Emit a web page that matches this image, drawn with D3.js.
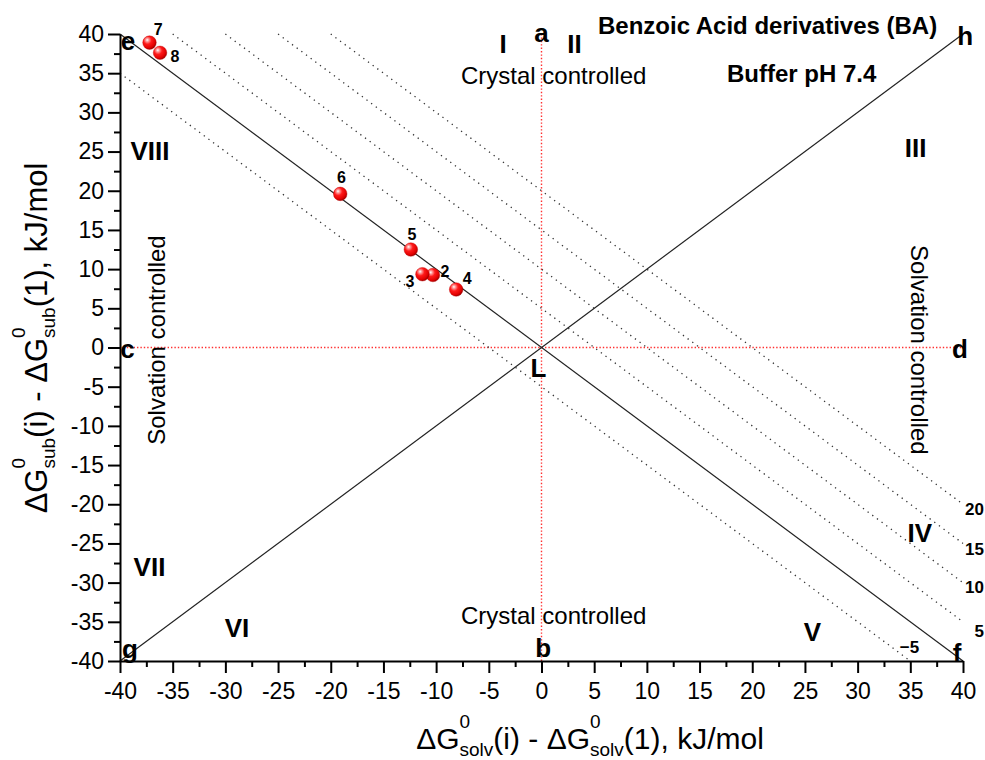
<!DOCTYPE html>
<html>
<head>
<meta charset="utf-8">
<script src="https://cdn.jsdelivr.net/npm/d3@7"></script>
<style>
  body { margin: 0; background: #fff; }
  svg text { font-family: "Liberation Sans", Arial, sans-serif; fill: #000; }
</style>
</head>
<body>
<svg id="chart" width="985" height="760"></svg>
<script>
// ---- data ---------------------------------------------------------------
// compound numbers and their free-energy differences relative to compound 1 (kJ/mol)
const compoundIds = ["2", "3", "4", "5", "6", "7", "8"];
const dGsolv = [-10.3, -11.3, -8.1, -12.4, -19.1, -37.2, -36.2];
const dGsub  = [9.25, 9.35, 7.4, 12.5, 19.6, 38.9, 37.6];

// iso-lines  x + y = c  (dotted)
const isoValues = [-5, 5, 10, 15, 20];
const isoLabels = ["\u22125", "5", "10", "15", "20"];

// axis ticks
const majorTicks = d3.range(-40, 40.1, 5);
const minorTicks = d3.range(-37.5, 40, 5);
const tickLabels = majorTicks.map(d => String(d));

// sector numerals and reference letters
const sectorNames = ["I", "II", "III", "IV", "V", "VI", "VII", "VIII"];
const sectorX = [-3.65, 3.13, 35.5, 35.9, 25.7, -28.9, -37.2, -37.15];
const sectorY = [37.6, 37.6, 24.3, -24.8, -37.45, -36.95, -29.15, 23.9];

const letterNames = ["a", "b", "c", "d", "e", "f", "g", "h", "L"];
const letterX = [0, 0.15, -39.3, 39.7, -39.25, 39.45, -39.05, 40.2, -0.3];
const letterY = [39.0, -39.5, -1.35, -1.35, 37.95, -40.1, -39.6, 38.6, -3.75];

// ---- layout -------------------------------------------------------------
const svg = d3.select("#chart");
const x = d3.scaleLinear().domain([-40, 40]).range([120, 963]);
const y = d3.scaleLinear().domain([-40, 40]).range([661, 34]);
const FONT = '"Liberation Sans", Arial, sans-serif';

// sphere shading for the markers
const defs = svg.append("defs");
const grad = defs.append("radialGradient").attr("id", "ball")
  .attr("cx", "38%").attr("cy", "35%").attr("r", "65%").attr("fx", "33%").attr("fy", "30%");
grad.append("stop").attr("offset", "0%").attr("stop-color", "#ffffff");
grad.append("stop").attr("offset", "18%").attr("stop-color", "#ff9a9a");
grad.append("stop").attr("offset", "45%").attr("stop-color", "#ff1a1a");
grad.append("stop").attr("offset", "85%").attr("stop-color", "#e00000");
grad.append("stop").attr("offset", "100%").attr("stop-color", "#a00000");

const plot = svg.append("g");

// red dotted zero lines (a-b and c-d)
plot.append("line")
  .attr("x1", x(0)).attr("x2", x(0)).attr("y1", y(40)).attr("y2", y(-40))
  .attr("stroke", "#ff3030").attr("stroke-width", 1.4).attr("stroke-dasharray", "1.4,2");
plot.append("line")
  .attr("x1", x(-40)).attr("x2", x(40)).attr("y1", y(0)).attr("y2", y(0))
  .attr("stroke", "#ff3030").attr("stroke-width", 1.4).attr("stroke-dasharray", "1.4,2");

// dotted iso-lines x + y = c, clipped to the square
isoValues.forEach(c => {
  const x1 = Math.max(-40, c - 40), x2 = Math.min(40, c + 40);
  plot.append("line")
    .attr("x1", x(x1)).attr("y1", y(c - x1))
    .attr("x2", x(x2)).attr("y2", y(c - x2))
    .attr("stroke", "#333").attr("stroke-width", 1.3).attr("stroke-dasharray", "1.3,4.5");
});

// solid diagonals e-f and g-h
plot.append("line")
  .attr("x1", x(-40)).attr("y1", y(40)).attr("x2", x(40)).attr("y2", y(-40))
  .attr("stroke", "#222").attr("stroke-width", 1.2);
plot.append("line")
  .attr("x1", x(-40)).attr("y1", y(-40)).attr("x2", x(40)).attr("y2", y(40))
  .attr("stroke", "#222").attr("stroke-width", 1.2);

// ---- axes ---------------------------------------------------------------
function styleAxis(g) {
  g.attr("font-family", FONT).attr("font-size", 23);
  g.select(".domain").attr("stroke", "#000").attr("stroke-width", 2);
  g.selectAll(".tick line").attr("stroke", "#000").attr("stroke-width", 2);
  g.selectAll(".tick text").attr("fill", "#000");
}
const xAxis = d3.axisBottom(x).tickValues(majorTicks)
  .tickFormat((d, i) => tickLabels[i]).tickSize(12).tickPadding(10).tickSizeOuter(0);
const yAxis = d3.axisLeft(y).tickValues(majorTicks)
  .tickFormat((d, i) => tickLabels[i]).tickSize(12).tickPadding(4).tickSizeOuter(0);

svg.append("g").attr("transform", `translate(0,${y(-40)})`).call(xAxis).call(styleAxis);
svg.append("g").attr("transform", `translate(${x(-40)},0)`).call(yAxis).call(styleAxis);

svg.append("g").attr("transform", `translate(0,${y(-40)})`)
  .call(d3.axisBottom(x).tickValues(minorTicks).tickSize(6).tickFormat(""))
  .call(g => { g.select(".domain").remove(); g.selectAll("line").attr("stroke", "#000").attr("stroke-width", 2); });
svg.append("g").attr("transform", `translate(${x(-40)},0)`)
  .call(d3.axisLeft(y).tickValues(minorTicks).tickSize(6).tickFormat(""))
  .call(g => { g.select(".domain").remove(); g.selectAll("line").attr("stroke", "#000").attr("stroke-width", 2); });

// axis titles with stacked super/subscripts
function richLabel(g, segs, main, small, rise, drop) {
  let cur = 0;
  segs.forEach(s => {
    if (typeof s === "string") {
      const t = g.append("text").attr("x", cur).attr("y", 0).attr("font-size", main).text(s);
      cur += t.node().getComputedTextLength();
    } else {
      const a = g.append("text").attr("x", cur).attr("y", -rise).attr("font-size", small).text(s.sup);
      const b = g.append("text").attr("x", cur).attr("y", drop).attr("font-size", small).text(s.sub);
      cur += Math.max(a.node().getComputedTextLength(), b.node().getComputedTextLength());
    }
  });
  const w = cur;
  g.selectAll("text").attr("x", function () { return +this.getAttribute("x") - w / 2; });
}
const xt = svg.append("g").attr("transform", "translate(590,749)");
richLabel(xt, ["\u0394G", { sup: "0", sub: "solv" }, "(i) - \u0394G", { sup: "0", sub: "solv" }, "(1), kJ/mol"], 30, 19, 21, 7);
const yt = svg.append("g").attr("transform", "translate(47,338) rotate(-90)");
richLabel(yt, ["\u0394G", { sup: "0", sub: "sub" }, "(i) - \u0394G", { sup: "0", sub: "sub" }, "(1), kJ/mol"], 31, 19, 22, 8);

// ---- annotations --------------------------------------------------------
const ann = svg.append("g").attr("font-family", FONT);

ann.selectAll("text.sector").data(sectorNames).join("text")
  .attr("class", "sector")
  .attr("x", (d, i) => x(sectorX[i])).attr("y", (d, i) => y(sectorY[i]))
  .attr("text-anchor", "middle").attr("font-size", 26).attr("font-weight", "bold")
  .text(d => d);

ann.selectAll("text.letter").data(letterNames).join("text")
  .attr("class", "letter")
  .attr("x", (d, i) => x(letterX[i])).attr("y", (d, i) => y(letterY[i]))
  .attr("text-anchor", "middle").attr("font-size", 26).attr("font-weight", "bold")
  .text(d => d);

ann.append("text").attr("x", x(-7.64)).attr("y", y(33.6))
  .attr("font-size", 24).text("Crystal controlled");
ann.append("text").attr("x", x(-7.64)).attr("y", y(-35.3))
  .attr("font-size", 24).text("Crystal controlled");

ann.append("text")
  .attr("transform", `translate(${x(-35.75)},${y(0.95)}) rotate(-90)`)
  .attr("text-anchor", "middle").attr("font-size", 24).text("Solvation controlled");
ann.append("text")
  .attr("transform", `translate(${x(35.05)},${y(-0.3)}) rotate(90)`)
  .attr("text-anchor", "middle").attr("font-size", 24).text("Solvation controlled");

ann.append("text").attr("x", x(5.36)).attr("y", y(40.0))
  .attr("font-size", 24).attr("font-weight", "bold").text("Benzoic Acid derivatives (BA)");
ann.append("text").attr("x", x(17.6)).attr("y", y(33.9))
  .attr("font-size", 24).attr("font-weight", "bold").text("Buffer pH 7.4");

// iso-line value labels, kept inside the right edge
const isoLabX = [34.0, 41.1, 40.2, 40.2, 40.2];
const isoLabY = [-38.98, -36.95, -31.3, -26.5, -21.4];
ann.selectAll("text.iso").data(isoLabels).join("text")
  .attr("class", "iso")
  .attr("x", (d, i) => x(isoLabX[i])).attr("y", (d, i) => y(isoLabY[i]))
  .attr("font-size", 17).attr("font-weight", "bold").text(d => d);

// ---- compounds ----------------------------------------------------------
const pts = compoundIds.map((id, i) => ({ id, sx: dGsolv[i], sy: dGsub[i] }));
const labelOffset = { "2": [12, 2], "3": [-12.5, 12.5], "4": [11, -6], "5": [1, -10],
                      "6": [1.3, -11], "7": [8.7, -7.7], "8": [15, 9.3] };

svg.append("g").selectAll("circle").data(pts).join("circle")
  .attr("cx", d => x(d.sx)).attr("cy", d => y(d.sy)).attr("r", 6.8)
  .attr("fill", "url(#ball)").attr("stroke", "#c00000").attr("stroke-width", 0.4);

svg.append("g").attr("font-family", FONT).selectAll("text").data(pts).join("text")
  .attr("x", d => x(d.sx) + labelOffset[d.id][0])
  .attr("y", d => y(d.sy) + labelOffset[d.id][1])
  .attr("text-anchor", "middle").attr("font-size", 16).attr("font-weight", "bold")
  .text(d => d.id);
</script>
</body>
</html>
